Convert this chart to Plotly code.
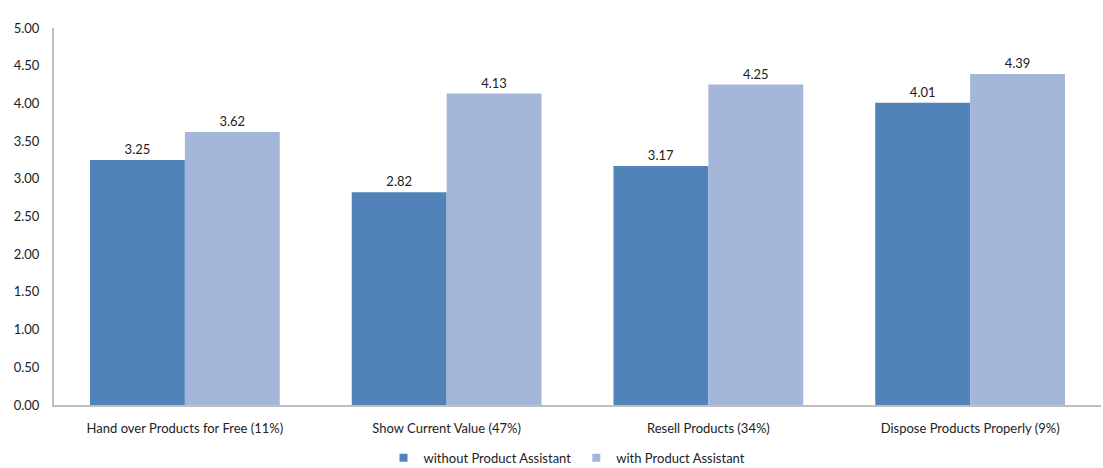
import plotly.graph_objects as go

categories = ["Hand over Products for Free (11%)", "Show Current Value (47%)",
              "Resell Products (34%)", "Dispose Products Properly (9%)"]
without_pa = [3.25, 2.82, 3.17, 4.01]
with_pa = [3.62, 4.13, 4.25, 4.39]
tick_vals = [0, 0.5, 1, 1.5, 2, 2.5, 3, 3.5, 4, 4.5, 5]
series_names = ["without Product Assistant", "with Product Assistant"]
colors = ["#5283B8", "#A4B6D9"]

font = dict(family="Lato, Open Sans, sans-serif", size=13, color="#222")

fig = go.Figure()
for vals, name, col in zip([without_pa, with_pa], series_names, colors):
    fig.add_bar(x=categories, y=vals, name=name, showlegend=False,
                marker=dict(color=col, line=dict(width=0)),
                text=[f"{v:.2f}" for v in vals], textposition="outside",
                textfont=font, cliponaxis=False)
for name, col in zip(series_names, colors):
    fig.add_scatter(x=[None], y=[None], mode="markers", name=name,
                    marker=dict(symbol="square", size=8, color=col))

fig.update_layout(
    width=1103, height=468,
    margin=dict(l=54, r=2, t=28, b=63, autoexpand=False),
    paper_bgcolor="white", plot_bgcolor="white",
    font=font,
    barmode="group", bargap=0.275, bargroupgap=0,
    showlegend=True,
    legend=dict(orientation="h", x=0.49, xanchor="center", y=-0.1, yanchor="top",
                font=dict(size=13), itemwidth=30, traceorder="normal",
                tracegroupgap=0),
    xaxis=dict(showline=True, linecolor="#BFBFBF", linewidth=2, ticks="",
               tickfont=font, ticklabelstandoff=10),
    yaxis=dict(range=[0, 5], tickvals=tick_vals, tickformat=".2f",
               showgrid=False, showline=True, linecolor="#BFBFBF", linewidth=2,
               ticks="", ticklen=0, tickfont=font, zeroline=False,
               ticklabelstandoff=10),
    uniformtext=dict(mode="show", minsize=11),
)

fig.write_html("out.html")
